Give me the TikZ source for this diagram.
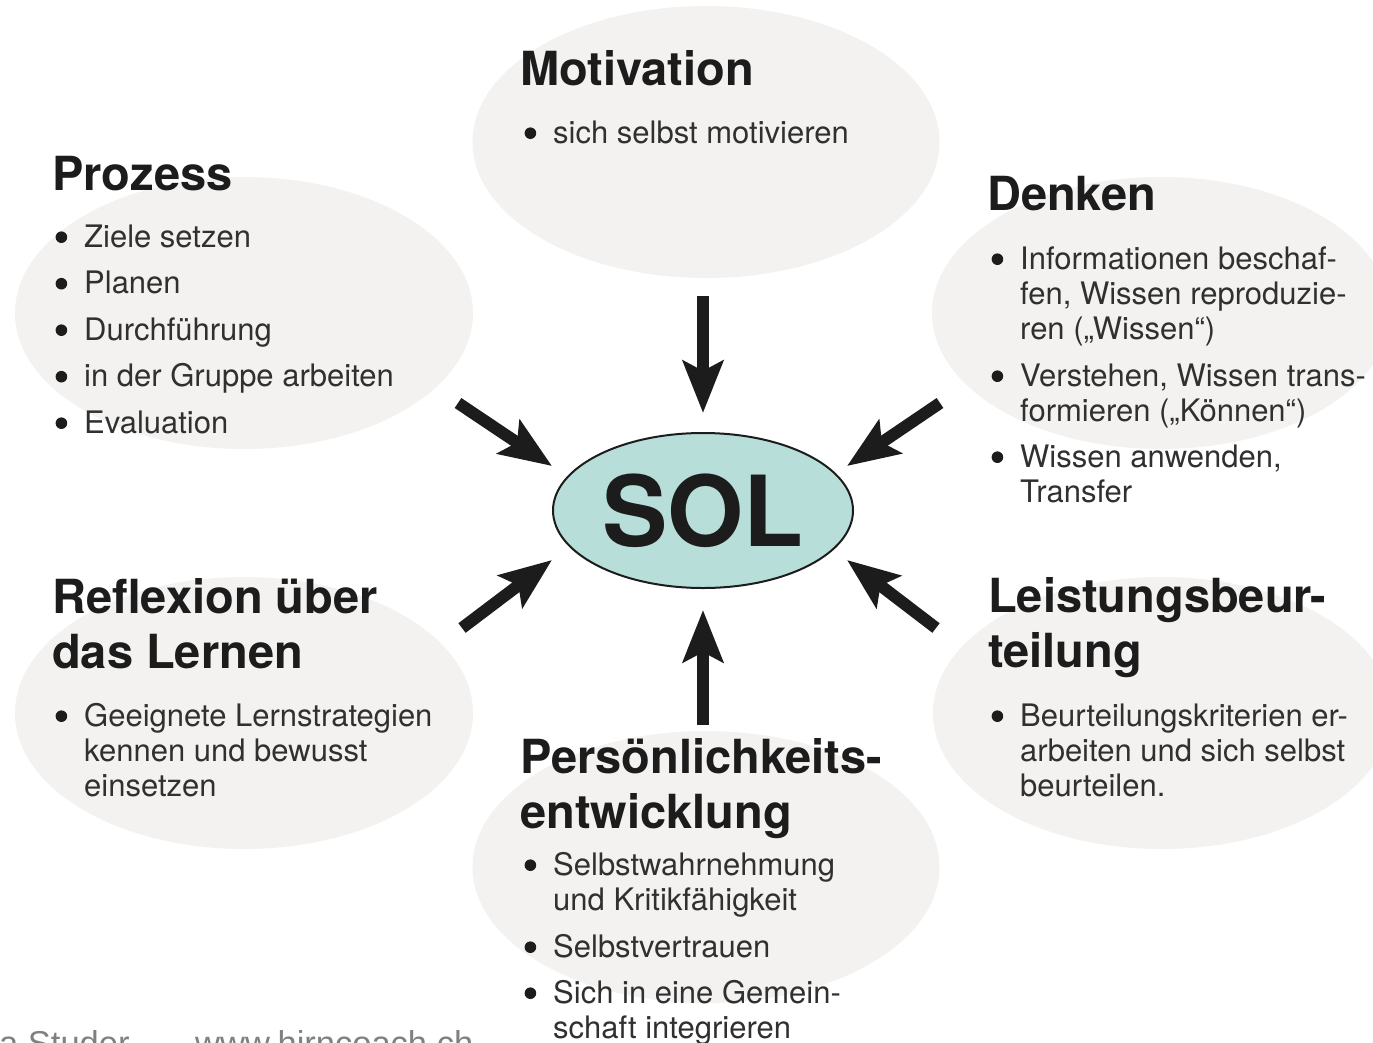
\documentclass[tikz,border=0pt]{standalone}
\usepackage{fontspec}
\setmainfont{TeX Gyre Heros}
\newfontfamily\footfont{Liberation Sans}
\usepackage{tikz}
\usetikzlibrary{arrows.meta,shapes.geometric}
\definecolor{bubblegray}{RGB}{243,242,240}
\definecolor{solteal}{RGB}{184,222,217}
\definecolor{inkdark}{RGB}{28,28,28}
\definecolor{inkbody}{RGB}{48,48,48}
\definecolor{footgray}{RGB}{128,128,128}
\newcommand{\itemdot}{\makebox[0pt][r]{\raisebox{4pt}{\tikz\fill[inkdark] (0,0) circle (5.8pt);}\hspace{17pt}}}

\begin{document}
\begin{tikzpicture}[x=1pt, y=-1pt,
  bubble/.style={ellipse, fill=bubblegray, minimum width=458pt, minimum height=272pt, inner sep=0pt},
  headtxt/.style={anchor=base west, inner sep=0pt, align=left, text=inkdark,
                  font=\fontsize{47}{55}\selectfont\bfseries},
  bodytxt/.style={anchor=base west, inner sep=0pt, align=left, text=inkbody,
                  font=\fontsize{31}{35}\selectfont},
  foottxt/.style={anchor=base west, inner sep=0pt, text=footgray,
                  font=\footfont\fontsize{34.5}{40}\selectfont},
  inarrow/.style={draw=inkdark, line width=12pt,
                  -{Stealth[length=52pt, width=40pt, inset=10pt]}}]
  \path[use as bounding box, fill=white] (0,0) rectangle (1373,1042);

  % Bubbles
  \node[bubble, minimum width=467pt] (motivbub) at (706,142) {};
  \node[bubble] (prozessbub) at (244,313) {};
  \node[bubble] (denkenbub) at (1161,313) {};
  \node[bubble] (reflexbub) at (244,713) {};
  \node[bubble] (leistungbub) at (1162,713) {};
  \node[bubble, minimum width=467pt] (persbub) at (706,867) {};

  % Motivation (base = last line)
  \node[headtxt] (motivhead) at (520,85) {Motivation};
  \node[bodytxt] (motivlist) at (553,143) {\itemdot sich selbst motivieren};

  % Prozess
  \node[headtxt] (prozesshead) at (52,190) {Prozess};
  \node[bodytxt] (prozesslist) at (84,433)
    {\itemdot Ziele setzen\\[11.5pt]\itemdot Planen\\[11.5pt]\itemdot Durchführung\\[11.5pt]%
     \itemdot in der Gruppe arbeiten\\[11.5pt]\itemdot Evaluation};

  % Denken
  \node[headtxt] (denkenhead) at (987,210) {Denken};
  \node[bodytxt] (denkenlist) at (1020,502)
    {\itemdot Informationen beschaf-\\fen, Wissen reproduzie-\\ren („Wissen“)\\[12pt]%
     \itemdot Verstehen, Wissen trans-\\formieren („Können“)\\[11pt]%
     \itemdot Wissen anwenden,\\Transfer};

  % Reflexion
  \node[headtxt] (reflexhead) at (52,668) {Reflexion über\\das Lernen};
  \node[bodytxt] (reflexlist) at (84,796)
    {\itemdot Geeignete Lernstrategien\\kennen und bewusst\\einsetzen};

  % Leistungsbeurteilung
  \node[headtxt] (leistunghead) at (988,667) {Leistungsbeur-\\teilung};
  \node[bodytxt] (leistunglist) at (1020,796)
    {\itemdot Beurteilungskriterien er-\\arbeiten und sich selbst\\beurteilen.};

  % Persoenlichkeitsentwicklung
  \node[headtxt] (pershead) at (520,828) {Persönlichkeits-\\entwicklung};
  \node[bodytxt] (perslist) at (553,1038)
    {\itemdot Selbstwahrnehmung\\und Kritikfähigkeit\\[12pt]\itemdot Selbstvertrauen\\[11pt]%
     \itemdot Sich in eine Gemein-\\schaft integrieren};

  % SOL in the middle
  \node[ellipse, draw=inkdark, line width=2pt, fill=solteal, minimum width=300pt,
        minimum height=155pt, inner sep=0pt, text=inkdark,
        font=\fontsize{98}{100}\selectfont\bfseries] (sol) at (703,510.5) {SOL};

  % Arrows towards SOL
  \coordinate (nTail) at (703,296);  \coordinate (nTip) at (703,413);
  \coordinate (sTail) at (703,725);  \coordinate (sTip) at (703,610);
  \coordinate (nwTail) at (458,403); \coordinate (nwTip) at (552,466);
  \coordinate (neTail) at (940,403); \coordinate (neTip) at (847,466);
  \coordinate (swTail) at (462,628); \coordinate (swTip) at (552,560);
  \coordinate (seTail) at (936,628); \coordinate (seTip) at (847,560);
  \foreach \d in {n,s,nw,ne,sw,se} {
    \draw[inarrow] (\d Tail) -- (\d Tip);
  }

  % Footer, cut at the bottom edge
  \node[foottxt] (footname) at (-1,1055) {a Studer};
  \node[foottxt] (footweb) at (195,1055) {www.hirncoach.ch};
\end{tikzpicture}
\end{document}
